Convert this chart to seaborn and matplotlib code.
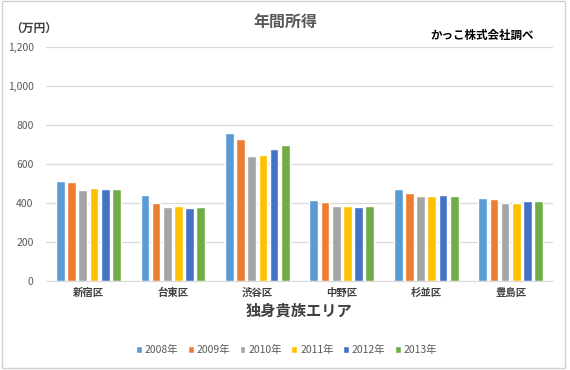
import pandas as pd
import matplotlib.pyplot as plt
import seaborn as sb

# データ（グラフから読み取った値、単位：万円）
areas = ["新宿区", "台東区", "渋谷区", "中野区", "杉並区", "豊島区"]
years = ["2008年", "2009年", "2010年", "2011年", "2012年", "2013年"]
v2008 = [512, 443, 759, 414, 470, 426]
v2009 = [507, 398, 727, 402, 453, 419]
v2010 = [465, 380, 640, 383, 434, 400]
v2011 = [478, 386, 647, 383, 437, 400]
v2012 = [473, 374, 679, 380, 443, 409]
v2013 = [473, 381, 698, 383, 434, 410]
colors = ["#5B9BD5", "#ED7D31", "#A5A5A5", "#FFC000", "#4472C4", "#70AD47"]

# 縦長の表にする
rows = []
for year, vals in zip(years, [v2008, v2009, v2010, v2011, v2012, v2013]):
    for area, v in zip(areas, vals):
        rows.append({"エリア": area, "年": year, "所得": v})
df = pd.DataFrame(rows)

sb.set_style("white")
plt.rcParams["font.family"] = ["Noto Sans CJK JP", "DejaVu Sans"]

fig = plt.figure(figsize=(5.7, 3.7), dpi=100)
ax = fig.add_axes([0.081, 0.241, 0.889, 0.632])

sb.barplot(data=df, x="エリア", y="所得", hue="年", palette=colors,
           width=0.795, gap=0.22, saturation=1, ax=ax, legend=True)

ax.set_ylim(0, 1200)
ax.set_yticks(range(0, 1201, 200))
ax.set_yticklabels([f"{t:,}" for t in range(0, 1201, 200)], color="#595959", fontsize=7.5)
ax.tick_params(axis="x", labelsize=7.5, colors="#404040", length=0, pad=5)
ax.tick_params(axis="y", length=0, pad=9)
for lab in ax.get_xticklabels():
    lab.set_fontweight("bold")
ax.grid(axis="y", color="#D9D9D9", linewidth=0.9)
ax.set_axisbelow(True)
for s in ["top", "right", "left"]:
    ax.spines[s].set_visible(False)
ax.spines["bottom"].set_color("#D9D9D9")
ax.set_xlim(-0.5, 5.5)

ax.set_ylabel("")
ax.set_xlabel("独身貴族エリア", fontsize=11, fontweight="bold", color="#404040", labelpad=3)

# 凡例
handles, labels = ax.get_legend_handles_labels()
ax.legend_.remove()
fig.legend(handles, labels, loc="center", bbox_to_anchor=(0.503, 0.054), ncol=6,
           frameon=False, fontsize=7.5, handlelength=0.55, handleheight=0.55,
           handletextpad=0.3, columnspacing=0.9, labelcolor="#595959")

# タイトルと注記
fig.text(0.5, 0.94, "年間所得", ha="center", va="center", fontsize=11.5,
         fontweight="bold", color="#595959")
fig.text(0.018, 0.924, "（万円）", ha="left", va="center", fontsize=8.5,
         fontweight="bold", color="#404040")
fig.text(0.937, 0.905, "かっこ株式会社調べ", ha="right", va="center", fontsize=8.3,
         fontweight="bold", color="black")

# 外枠
fig.patches.append(plt.Rectangle((0.004, 0.006), 0.988, 0.99, transform=fig.transFigure,
                                 fill=False, edgecolor="#D0D0D0", linewidth=1))

fig.savefig("out.png", dpi=100)
